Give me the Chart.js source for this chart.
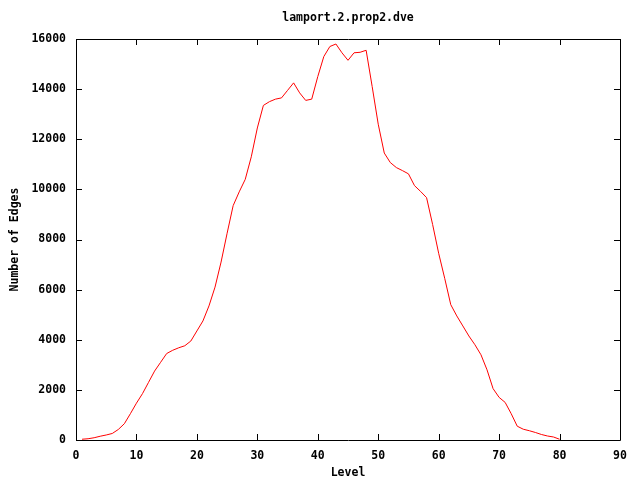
<!DOCTYPE html>
<html>
<head>
<meta charset="utf-8">
<title>lamport.2.prop2.dve</title>
<script src="https://cdn.jsdelivr.net/npm/chart.js@4.4.1/dist/chart.umd.min.js"></script>
<style>
  html, body { margin: 0; padding: 0; background: #fff; }
  #wrap { width: 640px; height: 480px; }
</style>
</head>
<body>
<div id="wrap"><canvas id="main-chart" width="640" height="480"></canvas></div>
<script>
// Data
const levels = [
  1, 2, 3, 4, 5, 6, 7, 8, 9, 10,
  11, 12, 13, 14, 15, 16, 17, 18, 19, 20,
  21, 22, 23, 24, 25, 26, 27, 28, 29, 30,
  31, 32, 33, 34, 35, 36, 37, 38, 39, 40,
  41, 42, 43, 44, 45, 46, 47, 48, 49, 50,
  51, 52, 53, 54, 55, 56, 57, 58, 59, 60,
  61, 62, 63, 64, 65, 66, 67, 68, 69, 70,
  71, 72, 73, 74, 75, 76, 77, 78, 79, 80
];
const edges = [
  30, 50, 90, 150, 200, 260, 420, 650, 1050, 1470,
  1850, 2300, 2750, 3100, 3450, 3580, 3680, 3760, 3950, 4350,
  4750, 5350, 6100, 7100, 8250, 9350, 9900, 10400, 11300, 12450,
  13350, 13500, 13600, 13650, 13950, 14250, 13850, 13550, 13600, 14500,
  15300, 15700, 15800, 15450, 15150, 15450, 15470, 15550, 14100, 12600,
  11450, 11070, 10870, 10750, 10620, 10150, 9920, 9670, 8600, 7450,
  6450, 5400, 4950, 4550, 4150, 3800, 3400, 2800, 2050, 1700,
  1500, 1050, 550, 430, 370, 300, 220, 160, 120, 30
];
const xTicks = [0, 10, 20, 30, 40, 50, 60, 70, 80, 90];
const yTicks = [0, 2000, 4000, 6000, 8000, 10000, 12000, 14000, 16000];

const chartTitle = 'lamport.2.prop2.dve';
const xTitle = 'Level';
const yTitle = 'Number of Edges';

const FONT = "'DejaVu Sans Mono', 'Liberation Mono', monospace";

// gnuplot-like frame with inward ticks on all four sides, title centred on the plot
const framePlugin = {
  id: 'frame',
  afterDraw(chart) {
    const ctx = chart.ctx;
    const area = chart.chartArea;
    const xs = chart.scales.x;
    const ys = chart.scales.y;
    const len = 6;
    ctx.save();
    ctx.strokeStyle = '#000';
    ctx.lineWidth = 1;
    ctx.beginPath();
    ctx.rect(Math.round(area.left) + 0.5, Math.round(area.top) + 0.5,
             Math.round(area.right - area.left), Math.round(area.bottom - area.top));
    xTicks.forEach(v => {
      const px = Math.round(xs.getPixelForValue(v)) + 0.5;
      ctx.moveTo(px, area.bottom);
      ctx.lineTo(px, area.bottom - len);
      ctx.moveTo(px, area.top);
      ctx.lineTo(px, area.top + len);
    });
    yTicks.forEach(v => {
      const py = Math.round(ys.getPixelForValue(v)) + 0.5;
      ctx.moveTo(area.left, py);
      ctx.lineTo(area.left + len, py);
      ctx.moveTo(area.right, py);
      ctx.lineTo(area.right - len, py);
    });
    ctx.stroke();

    ctx.fillStyle = '#000';
    ctx.font = 'bold 11.5px ' + FONT;
    ctx.textAlign = 'center';
    ctx.textBaseline = 'middle';
    ctx.fillText(chartTitle, (area.left + area.right) / 2, 18);
    ctx.restore();
  }
};

new Chart(document.getElementById('main-chart'), {
  type: 'line',
  data: {
    datasets: [{
      label: chartTitle,
      data: levels.map((lv, i) => ({ x: lv, y: edges[i] })),
      borderColor: '#ff0000',
      borderWidth: 1,
      pointRadius: 0,
      tension: 0,
      fill: false
    }]
  },
  options: {
    responsive: false,
    animation: false,
    layout: { padding: { left: 0, right: 20, top: 39, bottom: 0 } },
    plugins: {
      legend: { display: false },
      tooltip: { enabled: false },
      title: { display: false }
    },
    scales: {
      x: {
        type: 'linear',
        min: 0,
        max: 90,
        afterBuildTicks: s => { s.ticks = xTicks.map(v => ({ value: v })); },
        afterFit: s => { s.height = 40; },
        grid: { display: false, drawTicks: false },
        border: { display: false },
        ticks: {
          color: '#000',
          padding: 9,
          maxRotation: 0,
          callback: v => String(v),
          font: { family: FONT, size: 11.5, weight: 'bold' }
        },
        title: {
          display: true,
          text: xTitle,
          color: '#000',
          font: { family: FONT, size: 11.5, weight: 'bold' },
          padding: { top: 0, bottom: 0 }
        }
      },
      y: {
        min: 0,
        max: 16000,
        afterBuildTicks: s => { s.ticks = yTicks.map(v => ({ value: v })); },
        afterFit: s => { s.width = 76; },
        grid: { display: false, drawTicks: false },
        border: { display: false },
        ticks: {
          color: '#000',
          padding: 10,
          callback: v => String(v),
          font: { family: FONT, size: 11.5, weight: 'bold' }
        },
        title: {
          display: true,
          text: yTitle,
          color: '#000',
          font: { family: FONT, size: 11.5, weight: 'bold' },
          padding: { top: 8, bottom: 0 }
        }
      }
    }
  },
  plugins: [framePlugin]
});
</script>
</body>
</html>
